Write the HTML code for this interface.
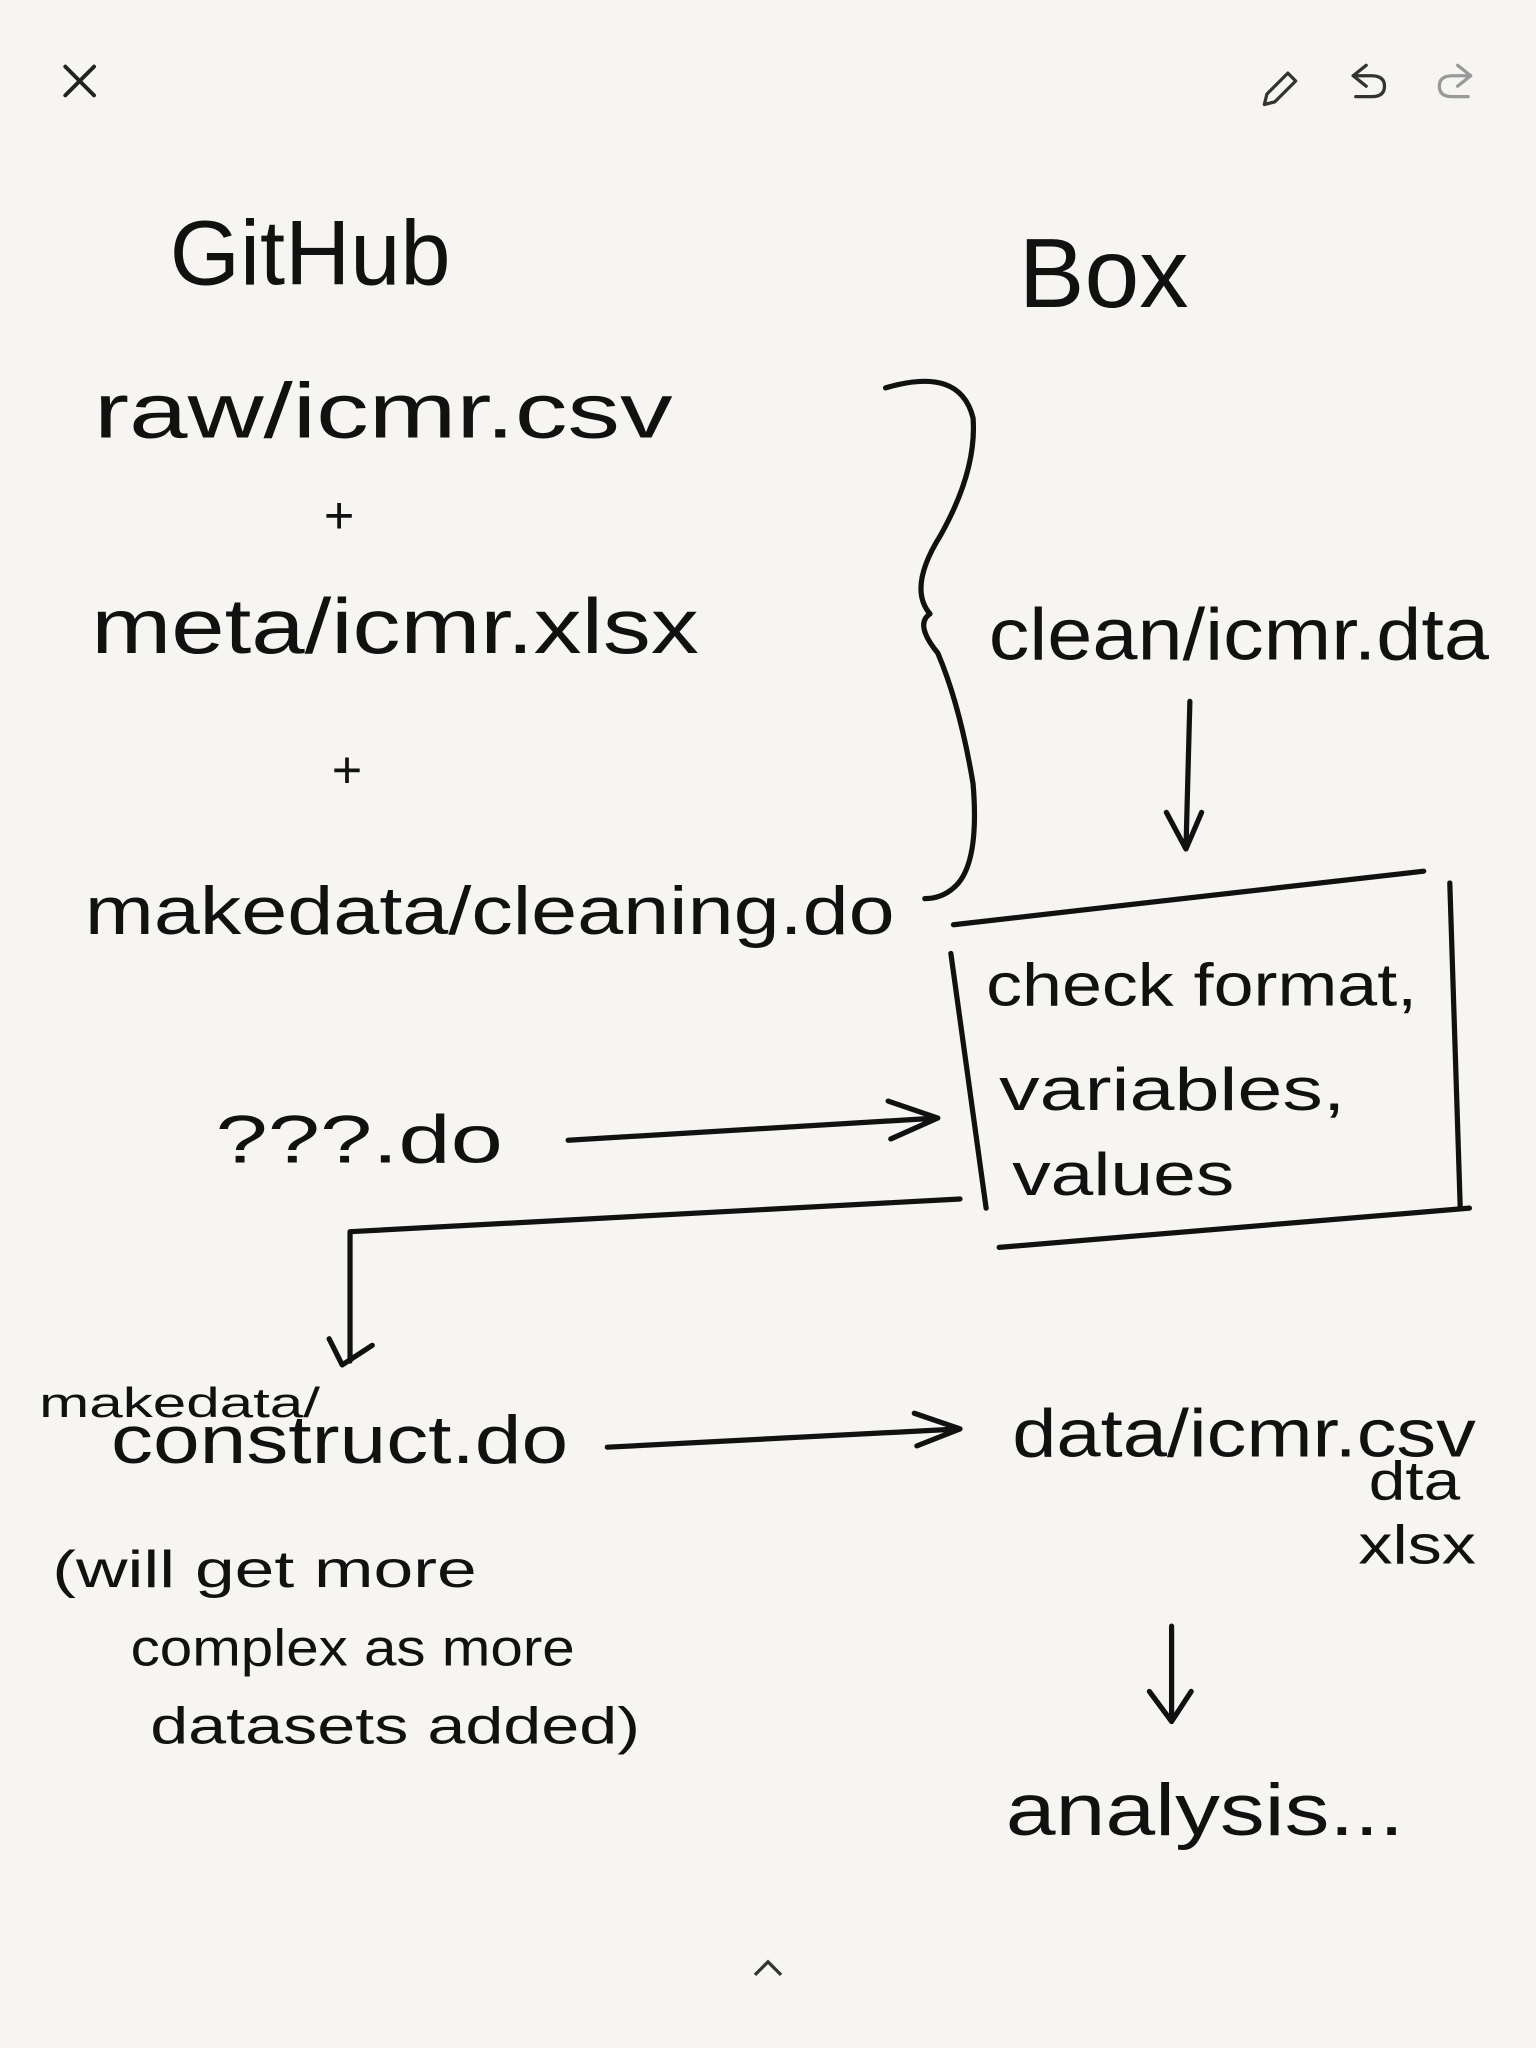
<!DOCTYPE html>
<html><head><meta charset="utf-8"><style>
html,body{margin:0;padding:0;background:#f6f5f1;}
svg{display:block}
text{font-family:"Liberation Sans",sans-serif;fill:#111;}
</style></head><body>
<svg width="1536" height="2048" viewBox="0 0 1176 1568" xmlns="http://www.w3.org/2000/svg">
<rect width="1176" height="1568" fill="#f6f5f1"/>
<g stroke="#222" stroke-width="3" fill="none" stroke-linecap="round">
<path d="M50 51 L72 73 M72 51 L50 73"/>
</g>
<g stroke="#333" stroke-width="2.5" fill="none" stroke-linecap="round" stroke-linejoin="round">
<path d="M970 72 L986 56 L992 62 L976 78 L968 80 Z"/>
<path d="M1046 50 L1036 58 L1046 66 M1036 58 L1050 58 Q1060 58 1060 66 Q1060 74 1050 74 L1038 74"/>
</g>
<g stroke="#999" stroke-width="2.5" fill="none" stroke-linecap="round" stroke-linejoin="round">
<path d="M1116 50 L1126 58 L1116 66 M1126 58 L1112 58 Q1102 58 1102 66 Q1102 74 1112 74 L1124 74"/>
</g>
<path d="M578 1512 L588 1502 L598 1512" stroke="#333" stroke-width="2.5" fill="none"/>

<text x="130" y="218" font-size="70" textLength="215" lengthAdjust="spacingAndGlyphs">GitHub</text>
<text x="780" y="235" font-size="75" textLength="130" lengthAdjust="spacingAndGlyphs">Box</text>
<text x="72" y="335" font-size="60" textLength="443" lengthAdjust="spacingAndGlyphs">raw/icmr.csv</text>
<text x="248" y="408" font-size="40">+</text>
<text x="70" y="500" font-size="60" textLength="465" lengthAdjust="spacingAndGlyphs">meta/icmr.xlsx</text>
<text x="254" y="603" font-size="40">+</text>
<text x="65" y="715" font-size="52" textLength="620" lengthAdjust="spacingAndGlyphs">makedata/cleaning.do</text>
<text x="757" y="505" font-size="56" textLength="383" lengthAdjust="spacingAndGlyphs">clean/icmr.dta</text>
<text x="755" y="770" font-size="46" textLength="330" lengthAdjust="spacingAndGlyphs">check format,</text>
<text x="765" y="850" font-size="46" textLength="265" lengthAdjust="spacingAndGlyphs">variables,</text>
<text x="775" y="915" font-size="46" textLength="170" lengthAdjust="spacingAndGlyphs">values</text>
<text x="165" y="890" font-size="52" textLength="220" lengthAdjust="spacingAndGlyphs">???.do</text>
<text x="30" y="1085" font-size="32" textLength="215" lengthAdjust="spacingAndGlyphs">makedata/</text>
<text x="85" y="1120" font-size="52" textLength="350" lengthAdjust="spacingAndGlyphs">construct.do</text>
<text x="775" y="1115" font-size="52" textLength="355" lengthAdjust="spacingAndGlyphs">data/icmr.csv</text>
<text x="1048" y="1148" font-size="42" textLength="70" lengthAdjust="spacingAndGlyphs">dta</text>
<text x="1040" y="1197" font-size="42" textLength="90" lengthAdjust="spacingAndGlyphs">xlsx</text>
<text x="770" y="1405" font-size="56" textLength="305" lengthAdjust="spacingAndGlyphs">analysis...</text>
<text x="40" y="1215" font-size="40" textLength="325" lengthAdjust="spacingAndGlyphs">(will get more</text>
<text x="100" y="1275" font-size="40" textLength="340" lengthAdjust="spacingAndGlyphs">complex as more</text>
<text x="115" y="1335" font-size="40" textLength="375" lengthAdjust="spacingAndGlyphs">datasets added)</text>

<g stroke="#111" stroke-width="4" fill="none" stroke-linecap="round" stroke-linejoin="round">
<path d="M678 297 Q735 280 745 320 Q748 360 720 410 Q695 450 712 470 Q700 478 718 500 Q735 540 745 600 Q750 660 732 678 Q722 688 708 688"/>
<path d="M911 537 L908 650 M893 622 L908 650 L920 622"/>
<path d="M730 708 L1090 667"/>
<path d="M728 730 L755 925"/>
<path d="M1110 676 L1118 925"/>
<path d="M765 955 L1125 925"/>
<path d="M435 873 L718 856 M680 843 L718 856 L682 872"/>
<path d="M735 918 L268 943 L268 1042 M252 1025 L262 1045 L285 1030"/>
<path d="M465 1108 L735 1094 M700 1082 L735 1094 L702 1107"/>
<path d="M897 1245 L897 1318 M880 1295 L897 1318 L912 1295"/>
</g>
</svg>
</body></html>
